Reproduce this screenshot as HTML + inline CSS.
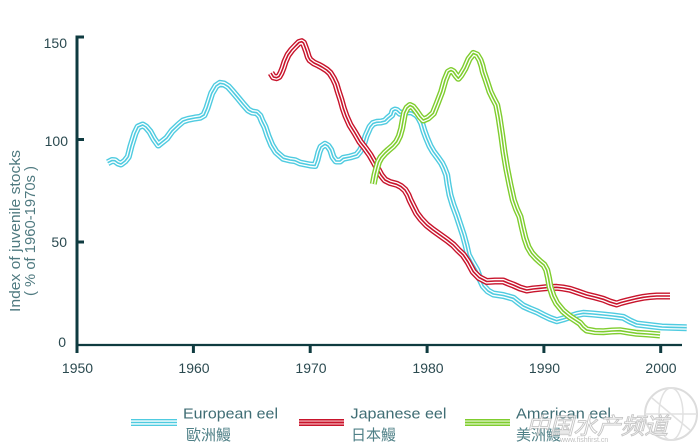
<!DOCTYPE html>
<html>
<head>
<meta charset="utf-8">
<style>
  html, body { margin:0; padding:0; background:#ffffff; }
  body { width:700px; height:446px; overflow:hidden; }
  svg { display:block; }
  .tick { font-family:"Liberation Sans", sans-serif; font-size:14px; fill:#2b4a50; }
  .ylab { font-family:"Liberation Sans", sans-serif; font-size:14.5px; fill:#4f7a80; }
  .leg { font-family:"Liberation Sans", "Noto Sans CJK TC", sans-serif; font-size:15px; fill:#3f6d74; }
  .legc { font-family:"Liberation Sans", "Noto Sans CJK TC", sans-serif; font-size:15px; fill:#4f8087; }
  .wm { font-family:"Liberation Sans", "Noto Sans CJK SC", sans-serif; }
</style>
</head>
<body>
<svg width="700" height="446" viewBox="0 0 700 446" xmlns="http://www.w3.org/2000/svg" xmlns:xlink="http://www.w3.org/1999/xlink">
  <defs>
    <polyline id="eu" points="107.7,162.7 112,160.5 115,160.7 118,163 121,164 125,161 128.3,156.7 131,146 135,133.3 138,127 142.7,125 146,127 150,131.7 154,139 158.3,145 162,142 166.7,138.3 172,131 178.3,125 183,121 188.3,119.3 195,118 200,117.3 204,115 207,108 211.7,93.3 216,86 220,83.3 224,84 228.3,86.7 233,92 238.3,98.3 243,104 248.3,110 252,112 256.7,112.7 260,116 262,121 265,127 268,136 271.7,145 276,152 283.3,158.3 290,160 295,160.7 300,163 305,164 310,165 315,165.5 317,160 319,152 321,147 325,144.3 328,146 330.7,150 333,157 336,161 340,161 343.3,158.3 350,157 356.7,155 360,151 363.3,145 366,136 370,127 373,123.5 376.7,122.3 381,122 385,121 388,118 391.7,115 393,111 395,110 397,110.5 400,113.3 404,113 408.3,111.7 412,112 416.7,115 419,118 421.7,123.3 424,131 426.7,138.3 430,146 433.3,151.7 438,158 441.7,163.3 444,168 446.7,175 448,184 450,195 453,205 456.7,215 460,225 463.3,235 466,245 468.3,255 472,262 476.7,270 480,279 483.3,286 488,291 493.3,294 503.3,295.5 513.3,298.3 518,302 523.3,306 530,309 536.7,311.7 543,315 550,318.3 556.7,320.7 563,319 570,316.7 577,314.5 583.3,313.3 593,314 603.3,315 613,316 623.3,317.3 630,321 636.7,324 645,325 653.3,326 662,327 670,327.3 686.7,327.7"/>
    <polyline id="jp" points="271,73 273.5,77 276.7,77.7 279,76.5 281,73 283,68 285,61.7 288,55 291.7,50 296,45.5 299,42.5 301.7,41.7 303.5,43 305,47 306.7,51.7 308.3,57 310,60 314,63 318.3,65 322,67 326.7,70 330,73 333.3,78.3 336,84 338.3,91.7 341,100 343.3,108.3 346,116 350,125 355,133 360,141.7 365,148 370,155 374,162 378.3,170 381,175 385,180 390,182.5 396.7,184.3 401,186.5 405,190 408,195 410,200 413,206 416.7,213.3 421,219 426.7,225 433,230 440,235 447,240 453.3,245 458,250 463.3,255 468,262 473.3,271.7 479,277.5 486.7,281.5 495,281 503.3,281 508,283 513.3,285 520,288 526.7,290 533,289 540,288.3 548,287.5 556.7,287.3 563,288 570,289.3 578,292 586.7,295 595,297 603.3,299.3 610,302 616.7,304 621,302.5 626.7,301 635,299 643.3,297.3 650,296.5 656.7,296 670,296"/>
    <polyline id="am" points="373.3,184 375,175 376.7,168.3 378.5,162 381,157.5 385,153 388.3,150 393,146 396.7,141.7 399.5,136 401.7,128.3 403,121 404.5,113 407,108 410,105.5 413,107 416.7,111.7 420,116.5 423.3,120 428,118 433.3,113.3 437,104 441.7,91.7 445,80 448.3,72 451,70.5 453.3,71.7 456,75.5 458.3,78.3 461,75 465,68.3 469,59 473.3,53.5 477,55 480,60 482,66 483.3,71.7 486.5,81 490,91.7 493,98 496.7,105 499,117 501.7,135 504,152 506.7,168.3 510,185 513.3,200 516.5,209 520,216.7 522.5,228 525,238.3 528,247 531.7,253.3 536,258 540,261.7 544,265 546.7,270 548.5,278 550,286.7 553,296 556.7,303.3 563,311 570,316.7 575,320 580,323.3 583,327 586.7,330 595,331.5 603.3,331.7 612,331 620,330.7 628,332 636.7,333.3 648,334 660,335"/>
  </defs>

  <rect x="0" y="0" width="700" height="446" fill="#ffffff"/>

  <!-- axes -->
  <g stroke="#0f3b40" fill="none" stroke-linecap="butt">
    <line x1="77" y1="35.5" x2="77" y2="353" stroke-width="3"/>
    <line x1="77" y1="345" x2="682" y2="345" stroke-width="2.2"/>
    <line x1="77" y1="37" x2="84" y2="37" stroke-width="3"/>
    <line x1="77" y1="139.5" x2="84" y2="139.5" stroke-width="3"/>
    <line x1="77" y1="242" x2="84" y2="242" stroke-width="3"/>
    <line x1="193.4" y1="345" x2="193.4" y2="353" stroke-width="3"/>
    <line x1="310.2" y1="345" x2="310.2" y2="353" stroke-width="3"/>
    <line x1="427.1" y1="345" x2="427.1" y2="353" stroke-width="3"/>
    <line x1="543.9" y1="345" x2="543.9" y2="353" stroke-width="3"/>
    <line x1="660.7" y1="345" x2="660.7" y2="353" stroke-width="3"/>
  </g>

  <g class="tick" text-anchor="end">
    <text x="67" y="48">150</text>
    <text x="68" y="146">100</text>
    <text x="67" y="247">50</text>
    <text x="66" y="347">0</text>
  </g>
  <g class="tick" text-anchor="middle">
    <text x="77.5" y="373">1950</text>
    <text x="194" y="373">1960</text>
    <text x="311" y="373">1970</text>
    <text x="428" y="373">1980</text>
    <text x="544.5" y="373">1990</text>
    <text x="661" y="373">2000</text>
  </g>

  <g class="ylab" text-anchor="middle">
    <text transform="translate(20,231) rotate(-90)" textLength="162" lengthAdjust="spacingAndGlyphs">Index of juvenile stocks</text>
    <text transform="translate(35,231) rotate(-90)" textLength="130" lengthAdjust="spacingAndGlyphs">( % of 1960-1970s )</text>
  </g>

  <!-- European eel (cyan) -->
  <g fill="none" stroke-linejoin="round" stroke-linecap="butt">
    <use xlink:href="#eu" href="#eu" stroke="#4fcbe0" stroke-width="7"/>
    <use xlink:href="#eu" href="#eu" stroke="#ffffff" stroke-width="4.2"/>
    <use xlink:href="#eu" href="#eu" stroke="#4fcbe0" stroke-width="1.6"/>
  </g>

  <!-- Japanese eel (red) -->
  <g fill="none" stroke-linejoin="round" stroke-linecap="butt">
    <use xlink:href="#jp" href="#jp" stroke="#c8142c" stroke-width="7"/>
    <use xlink:href="#jp" href="#jp" stroke="#ffffff" stroke-width="4.2"/>
    <use xlink:href="#jp" href="#jp" stroke="#c8142c" stroke-width="1.6"/>
  </g>

  <!-- American eel (green) -->
  <g fill="none" stroke-linejoin="round" stroke-linecap="butt">
    <use xlink:href="#am" href="#am" stroke="#7fcd2e" stroke-width="7"/>
    <use xlink:href="#am" href="#am" stroke="#ffffff" stroke-width="4.2"/>
    <use xlink:href="#am" href="#am" stroke="#7fcd2e" stroke-width="1.6"/>
  </g>

  <!-- legend -->
  <g stroke-linecap="butt">
    <line x1="131" y1="422.5" x2="177" y2="422.5" stroke="#4fcbe0" stroke-width="7"/>
    <line x1="131" y1="422.5" x2="177" y2="422.5" stroke="#ffffff" stroke-width="4.2"/>
    <line x1="131" y1="422.5" x2="177" y2="422.5" stroke="#4fcbe0" stroke-width="1.6"/>

    <line x1="299" y1="422.5" x2="344" y2="422.5" stroke="#c8142c" stroke-width="7"/>
    <line x1="299" y1="422.5" x2="344" y2="422.5" stroke="#f0a0a8" stroke-width="4.2"/>
    <line x1="299" y1="422.5" x2="344" y2="422.5" stroke="#c8142c" stroke-width="1.6"/>

    <line x1="465" y1="422.5" x2="510" y2="422.5" stroke="#7fcd2e" stroke-width="7"/>
    <line x1="465" y1="422.5" x2="510" y2="422.5" stroke="#d6f0b8" stroke-width="4.2"/>
    <line x1="465" y1="422.5" x2="510" y2="422.5" stroke="#7fcd2e" stroke-width="1.6"/>
  </g>
  <g>
    <text class="leg" x="183" y="418.5" textLength="95" lengthAdjust="spacingAndGlyphs">European eel</text>
    <text class="legc" x="186" y="440">歐洲鰻</text>
    <text class="leg" x="350.5" y="418.5" textLength="96" lengthAdjust="spacingAndGlyphs">Japanese eel</text>
    <text class="legc" x="351" y="440">日本鰻</text>
    <text class="leg" x="516" y="418.5" textLength="95" lengthAdjust="spacingAndGlyphs">American eel</text>
    <text class="legc" x="516" y="440">美洲鰻</text>
  </g>

  <!-- watermark -->
  <g opacity="0.8">
    <circle cx="671" cy="414" r="26" fill="none" stroke="#d4d4d4" stroke-width="2"/>
    <ellipse cx="671" cy="414" rx="12" ry="26" fill="none" stroke="#dadada" stroke-width="1.5"/>
    <line x1="645" y1="414" x2="697" y2="414" stroke="#dadada" stroke-width="1.5"/>
    <line x1="652" y1="398" x2="690" y2="430" stroke="#dadada" stroke-width="1.5"/>
    <text class="wm" x="526" y="434" font-size="23" font-style="italic" fill="#ffffff" stroke="#b8b8b8" stroke-width="0.9" textLength="142" lengthAdjust="spacingAndGlyphs">中国水产频道</text>
    <text class="wm" x="560" y="442" font-size="7" fill="#b0b0b0">www.fishfirst.cn</text>
  </g>
</svg>
</body>
</html>
